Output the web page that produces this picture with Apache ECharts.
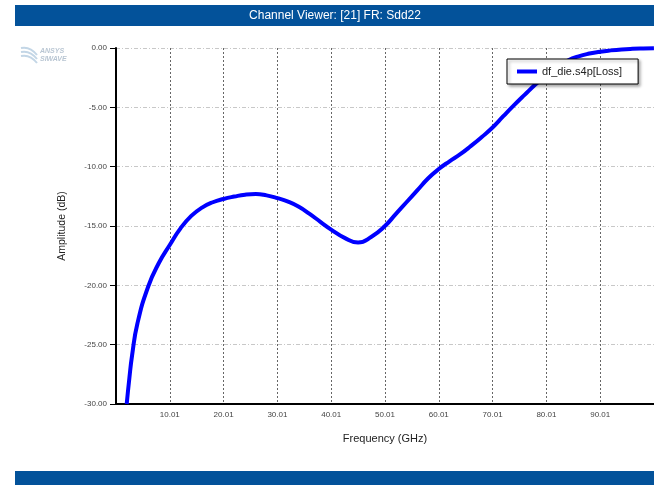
<!DOCTYPE html>
<html>
<head>
<meta charset="utf-8">
<script src="https://cdn.jsdelivr.net/npm/echarts@6/dist/echarts.min.js"></script>
<style>
html,body{margin:0;padding:0;background:#fff;}
#chart{width:654px;height:485px;}
</style>
</head>
<body>
<div id="chart"></div>
<script>
const chartTitle = "Channel Viewer: [21] FR: Sdd22";
const seriesName = "df_die.s4p[Loss]";
const xAxisName = "Frequency (GHz)";
const yAxisName = "Amplitude (dB)";
const freqGHz = [2.0, 2.5, 3.0, 4, 6, 8, 10, 12, 14, 16, 18, 20, 22, 24, 26, 28, 30, 32, 34, 36, 38, 40, 42.5, 45, 47.5, 50, 52, 54, 56, 58, 60, 62, 64, 66, 68, 70, 72, 74, 76, 78, 80, 82, 84, 86, 88, 90, 92, 94, 96, 98, 100];
const lossDb = [-30.0, -27.8, -25.9, -23.2, -20.1, -18.1, -16.6, -15.2, -14.15, -13.45, -13.0, -12.72, -12.52, -12.36, -12.3, -12.42, -12.65, -12.95, -13.38, -13.98, -14.65, -15.3, -16.0, -16.39, -15.9, -15.0, -14.0, -13.0, -12.0, -11.0, -10.2, -9.55, -8.95, -8.25, -7.5, -6.7, -5.75, -4.82, -3.93, -3.06, -2.25, -1.58, -1.05, -0.7, -0.47, -0.31, -0.2, -0.12, -0.07, -0.04, -0.02];

const chart = echarts.init(document.getElementById('chart'), null, {renderer: 'canvas'});
const data = freqGHz.map((f, i) => [f, lossDb[i]]);

const wave = (y) => ({type: 'bezierCurve', shape: {x1: 21, y1: y, x2: 37, y2: y + 7, cpx1: 30, cpy1: y - 2}, style: {stroke: '#c3d6e6', lineWidth: 2, fill: null}, z: 5});

chart.setOption({
  animation: false,
  backgroundColor: '#ffffff',
  graphic: [
    {type: 'rect', shape: {x: 15, y: 5, width: 639, height: 21}, style: {fill: '#03529A'}, z: 10},
    {type: 'text', x: 335, y: 16, style: {text: chartTitle, fill: '#ffffff', font: '12px "Liberation Sans", Arial, sans-serif', textAlign: 'center', textVerticalAlign: 'middle'}, z: 11},
    {type: 'rect', shape: {x: 15, y: 471, width: 639, height: 14}, style: {fill: '#03529A'}, z: 10},
    {type: 'text', x: 40, y: 47, style: {text: 'ANSYS\nSIWAVE', fill: '#b9c6d3', font: 'italic bold 7px "Liberation Sans", sans-serif', lineHeight: 8}, z: 5},
    wave(48), wave(52), wave(56)
  ],
  legend: {
    show: true,
    left: 507,
    top: 59,
    orient: 'horizontal',
    backgroundColor: '#ffffff',
    borderColor: '#000000',
    borderWidth: 1,
    padding: [7, 16, 7, 10],
    shadowColor: 'rgba(0,0,0,0.35)',
    shadowBlur: 3,
    shadowOffsetX: 2,
    shadowOffsetY: 2,
    itemWidth: 20,
    itemHeight: 4,
    itemGap: 6,
    icon: 'rect',
    textStyle: {color: '#222222', fontSize: 11, fontFamily: '"Liberation Sans", Arial, sans-serif'},
    data: [seriesName]
  },
  grid: {left: 116, top: 48, right: 0, bottom: 81, containLabel: false},
  xAxis: {
    type: 'value',
    min: 0.01,
    max: 100.01,
    interval: 10,
    name: xAxisName,
    nameLocation: 'middle',
    nameGap: 29,
    nameTextStyle: {color: '#222', fontSize: 11, fontFamily: '"Liberation Sans", Arial, sans-serif'},
    axisLine: {show: true, onZero: false, lineStyle: {color: '#000', width: 2}},
    axisTick: {show: false},
    axisLabel: {
      showMinLabel: false, showMaxLabel: false,
      color: '#444', fontSize: 8, margin: 7,
      fontFamily: '"Liberation Sans", Arial, sans-serif',
      formatter: v => v.toFixed(2)
    },
    splitLine: {show: true, lineStyle: {color: '#666', type: [2, 2], width: 1}}
  },
  yAxis: {
    type: 'value',
    min: -30,
    max: 0,
    interval: 5,
    name: yAxisName,
    nameLocation: 'middle',
    nameGap: 48,
    nameTextStyle: {color: '#222', fontSize: 10.5, fontFamily: '"Liberation Sans", Arial, sans-serif'},
    axisLine: {show: true, onZero: false, lineStyle: {color: '#000', width: 2}},
    axisTick: {show: true, length: 6, lineStyle: {color: '#000', width: 1}},
    axisLabel: {
      color: '#444', fontSize: 8, margin: 9,
      fontFamily: '"Liberation Sans", Arial, sans-serif',
      formatter: v => v.toFixed(2)
    },
    splitLine: {show: true, lineStyle: {color: '#c8c8c8', type: [4, 2, 1, 2], width: 1}}
  },
  series: [{
    name: seriesName,
    type: 'line',
    data: data,
    smooth: 0.5,
    showSymbol: false,
    symbol: 'none',
    clip: true,
    lineStyle: {color: '#0000FF', width: 4},
    itemStyle: {color: '#0000FF'}
  }]
});
</script>
</body>
</html>
